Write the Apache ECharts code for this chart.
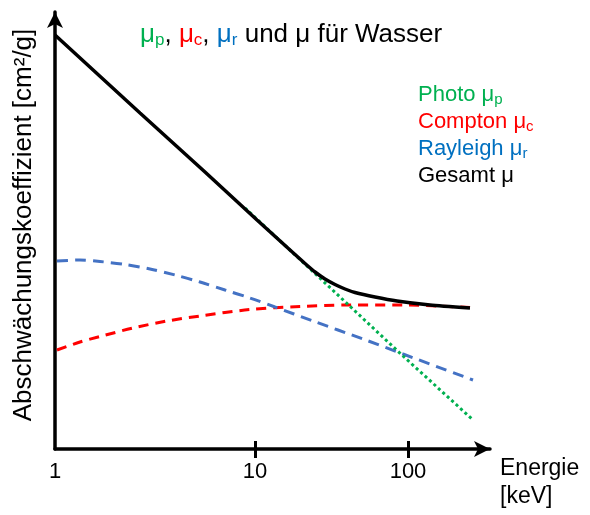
<!DOCTYPE html>
<html>
<head>
<meta charset="utf-8">
<script src="https://cdn.jsdelivr.net/npm/echarts@6/dist/echarts.min.js"></script>
<style>html,body{margin:0;padding:0;background:#fff}#c{width:590px;height:515px}</style>
</head>
<body>
<div id="c"></div>
<script>
// Schematic chart: x in axis position units (1 keV at 0, 10 keV at 200, 100 keV at 353), y in schematic units
const xTickValues = [0, 200, 353];
const xTickLabels = ['1', '10', '100'];

const gesamt = [[0,414],[85,336],[150,277],[202,229],[240,194.5],[250,185.5],[260,177],[270,170],[280,164.5],[290,160],[300,156.5],[320,152],[342,148],[375,144],[415,141]];
const photo = [[190,241],[300,138],[348,93],[417,30]];
const compton = [[2,99],[25,107],[45,112.5],[78,121],[112,128],[145,133],[195,139.5],[245,142.5],[295,144],[348,144],[415,141.5]];
const rayleigh = [[2,188],[25,189],[45,187.5],[70,184.5],[95,180],[120,174],[145,167],[170,159],[195,151],[220,142],[258,128],[308,110],[348,95],[418,69]];

const FONT = '"Liberation Sans", Arial, sans-serif';
const chart = echarts.init(document.getElementById('c'), null, {renderer: 'canvas'});

const main = (c) => ({fontSize: 26, fill: c, fontFamily: FONT});
const sub = (c) => ({fontSize: 17, fill: c, fontFamily: FONT, padding: [11, 0, 0, 0]});
const main2 = (c) => ({fontSize: 22, fill: c, fontFamily: FONT});
const sub2 = (c) => ({fontSize: 15, fill: c, fontFamily: FONT, padding: [9, 0, 0, 0]});

chart.setOption({
  animation: false,
  backgroundColor: '#fff',
  grid: {left: 55, right: 100, top: 12, bottom: 66, containLabel: false},
  xAxis: [{
    type: 'value', min: 0, max: 435,
    axisLine: {show: true, lineStyle: {color: '#000', width: 3.5}, symbol: ['none', 'arrow'], symbolSize: [12, 16]},
    axisTick: {show: true, customValues: xTickValues.slice(1), length: 9, lineStyle: {color: '#000', width: 3}},
    axisLabel: {show: true, customValues: xTickValues, margin: 12, fontSize: 22, color: '#000', fontFamily: FONT,
      formatter: (v) => xTickLabels[xTickValues.indexOf(v)]},
    splitLine: {show: false}
  }, {
    type: 'value', min: 0, max: 435, position: 'bottom',
    axisLine: {show: false},
    axisTick: {show: true, inside: true, customValues: xTickValues.slice(1), length: 8, lineStyle: {color: '#000', width: 3}},
    axisLabel: {show: false},
    splitLine: {show: false}
  }],
  yAxis: {
    type: 'value', min: 0, max: 437,
    axisLine: {show: true, lineStyle: {color: '#000', width: 3.5}, symbol: ['none', 'arrow'], symbolSize: [12, 16]},
    axisTick: {show: false}, axisLabel: {show: false}, splitLine: {show: false}
  },
  series: [
    {type: 'line', data: compton, smooth: 0.3, symbol: 'none', lineStyle: {color: '#ff0000', width: 3, type: [10, 7]}},
    {type: 'line', data: rayleigh, smooth: 0.3, symbol: 'none', lineStyle: {color: '#4472c4', width: 3, type: [11, 7]}},
    {type: 'line', data: photo, smooth: false, symbol: 'none', lineStyle: {color: '#00b050', width: 3, type: [3, 3]}},
    {type: 'line', data: gesamt, smooth: 0.2, symbol: 'none', lineStyle: {color: '#000', width: 3.5}}
  ],
  graphic: [
    {type: 'text', x: 24, y: 225, rotation: Math.PI / 2, style: {
      text: 'Abschwächungskoeffizient [cm²/g]', fontSize: 26, fill: '#000', fontFamily: FONT,
      align: 'center', verticalAlign: 'middle'}},
    {type: 'text', left: 140, top: 22, style: {
      text: '{g|μ}{gs|p}{k|, }{r|μ}{rs|c}{k|, }{b|μ}{bs|r}{k| und μ für Wasser}',
      rich: {g: main('#00b050'), gs: sub('#00b050'), r: main('#ff0000'), rs: sub('#ff0000'), b: main('#0070c0'), bs: sub('#0070c0'), k: main('#000')}
    }},
    {type: 'text', left: 418, top: 84, style: {text: '{a|Photo μ}{s|p}', rich: {a: main2('#00b050'), s: sub2('#00b050')}}},
    {type: 'text', left: 418, top: 111, style: {text: '{a|Compton μ}{s|c}', rich: {a: main2('#ff0000'), s: sub2('#ff0000')}}},
    {type: 'text', left: 418, top: 138, style: {text: '{a|Rayleigh μ}{s|r}', rich: {a: main2('#0070c0'), s: sub2('#0070c0')}}},
    {type: 'text', left: 418, top: 165, style: {text: '{a|Gesamt μ}', rich: {a: main2('#000')}}},
    {type: 'text', left: 500, top: 457, style: {text: 'Energie', fontSize: 23, fill: '#000', fontFamily: FONT}},
    {type: 'text', left: 500, top: 485, style: {text: '[keV]', fontSize: 23, fill: '#000', fontFamily: FONT}}
  ]
});
</script>
</body>
</html>
